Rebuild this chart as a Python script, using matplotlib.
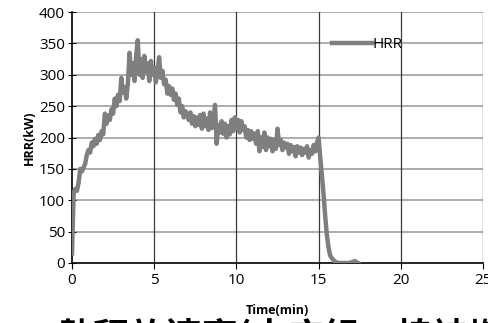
import numpy as np
import matplotlib.pyplot as plt

plt.rcParams['font.family'] = ['Open Sans', 'Noto Sans CJK TC', 'DejaVu Sans']

# HRR readings, every 0.1 min from 0 to 15 min
hrr_main = [15, 112, 118, 115, 128, 150, 146, 152, 158, 172,
            180, 176, 192, 186, 198, 190, 204, 196, 210, 205,
            238, 222, 235, 228, 245, 238, 262, 250, 268, 258,
            295, 272, 280, 262, 286, 335, 300, 318, 290, 330,
            355, 300, 325, 295, 330, 305, 318, 290, 322, 300,
            312, 288, 305, 328, 295, 306, 285, 292, 270, 282,
            268, 278, 260, 270, 252, 262, 240, 250, 232, 242,
            236, 228, 240, 222, 234, 218, 232, 220, 236, 214,
            238, 218, 230, 212, 240, 215, 226, 252, 190, 220,
            208, 226, 206, 222, 200, 218, 205, 228, 210, 232,
            214, 228, 208, 226, 212, 218, 200, 212, 196, 210,
            198, 206, 190, 210, 178, 200, 185, 208, 180, 200,
            186, 198, 178, 196, 182, 214, 188, 196, 180, 192,
            184, 190, 174, 188, 178, 185, 170, 186, 176, 184,
            172, 182, 176, 186, 168, 180, 174, 188, 178, 192,
            200]
time_main = [i / 10 for i in range(len(hrr_main))]

# decay after the fire goes out
time_tail = [15.1, 15.2, 15.3, 15.4, 15.5, 15.6, 15.7, 15.8, 15.9, 16.0,
             16.2, 16.8, 17.0, 17.2, 17.4]
hrr_tail = [168, 140, 110, 75, 45, 25, 12, 8, 5, 2, 0, 0, 1, 3, 0]

time = time_main + time_tail
hrr = hrr_main + hrr_tail

fig = plt.figure(figsize=(4.89, 3.23), dpi=100)
ax = fig.add_axes([72 / 489, 60 / 323, 411 / 489, 251 / 323])

ax.plot(time, hrr, color='#7f7f7f', linewidth=3.2, label='HRR', zorder=3)

ax.set_xlim(0, 25)
ax.set_ylim(0, 400)
ax.set_xticks(np.arange(0, 26, 5))
ax.set_yticks(np.arange(0, 401, 50))

for y in range(50, 401, 50):
    ax.axhline(y, color='#a6a6a6', linewidth=1.3, zorder=1)
for x in range(5, 26, 5):
    ax.axvline(x, color='#3a3a3a', linewidth=0.9, zorder=1)

for s in ['top', 'right']:
    ax.spines[s].set_visible(False)
ax.spines['left'].set_linewidth(1.2)
ax.spines['bottom'].set_linewidth(1.2)
ax.tick_params(axis='y', direction='inout', length=6, labelsize=11, pad=2)
ax.tick_params(axis='x', direction='out', length=4, labelsize=11, pad=3)

ax.set_ylabel('HRR(kW)', fontsize=9, fontweight='bold', labelpad=2)
fig.text(277 / 489, 1 - 310 / 323, 'Time(min)', fontsize=9, fontweight='bold',
         ha='center', va='center')

ax.legend(loc='center left', bbox_to_anchor=(0.6, 0.87), frameon=False,
          handlelength=2.6, handletextpad=0.0, fontsize=11)

fig.text(58 / 489, 1 - 318 / 323, '熱釋放速率(木床組、棉被燃燒)', fontsize=26,
         fontweight='bold', ha='left', va='top',
         family=['Noto Sans CJK TC', 'DejaVu Sans'])

fig.savefig('out.png', dpi=100)
